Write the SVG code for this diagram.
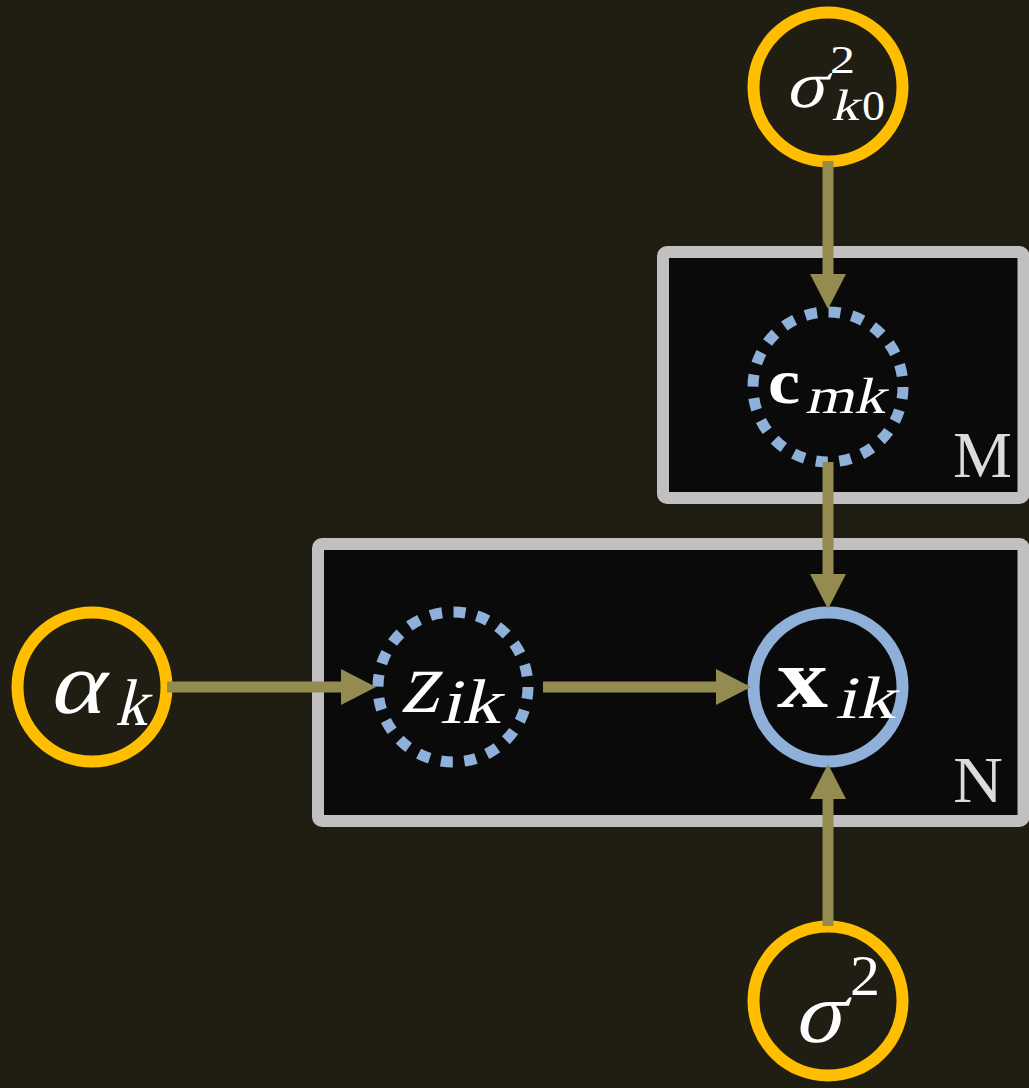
<svg xmlns="http://www.w3.org/2000/svg" width="1029" height="1088" viewBox="0 0 1029 1088">
  <style>
    .plate { fill: #0a0a0a; stroke: #c0c0c0; stroke-width: 12; }
    .plate-label { font-family: "Liberation Serif", serif; font-size: 66px; fill: #dcdcdc; }
    .hyper { fill: none; stroke: #ffbe00; stroke-width: 12; }
    .latent { fill: #0a0a0a; stroke: #8fb1d9; stroke-width: 11; stroke-dasharray: 12 11.56; }
    .observed { fill: #0a0a0a; stroke: #8fb1d9; stroke-width: 12; }
    .m { font-family: "Liberation Serif", "DejaVu Serif", serif; fill: #ffffff; }
    .bf { font-weight: bold; }
    .edge { stroke: #938b50; stroke-width: 11; fill: none; marker-end: url(#head); }
  </style>
  <defs>
    <marker id="head" viewBox="0 0 35 36" refX="1" refY="18" markerWidth="35" markerHeight="36" markerUnits="userSpaceOnUse" orient="auto">
      <path d="M0,0 L35,18 L0,36 Z" fill="#938b50"/>
    </marker>
  </defs>

  <rect width="1029" height="1088" fill="#201d12"/>

  <!-- plates -->
  <g id="plate-M">
    <rect class="plate" x="663" y="252" width="360.5" height="246" rx="4"/>
    <text class="plate-label" x="953" y="477" textLength="59" lengthAdjust="spacingAndGlyphs">M</text>
  </g>
  <g id="plate-N">
    <rect class="plate" x="318" y="544" width="705.5" height="277" rx="4"/>
    <text class="plate-label" x="953" y="802" textLength="50" lengthAdjust="spacingAndGlyphs">N</text>
  </g>

  <!-- nodes (math italics: upright serif glyphs slanted about their baseline) -->
  <g id="node-sigma-k0">
    <circle class="hyper" cx="828" cy="87" r="74.5"/>
    <text class="m" transform="translate(785 107) skewX(-14)" font-size="66" textLength="40" lengthAdjust="spacingAndGlyphs">σ</text>
    <text class="m" x="830" y="73" font-size="39" textLength="25" lengthAdjust="spacingAndGlyphs">2</text>
    <text class="m" transform="translate(831 120) skewX(-14)" font-size="44" textLength="28" lengthAdjust="spacingAndGlyphs">k</text>
    <text class="m" x="862" y="120" font-size="42" textLength="23" lengthAdjust="spacingAndGlyphs">0</text>
  </g>

  <g id="node-c-mk">
    <circle class="latent" cx="828" cy="387" r="75"/>
    <text class="m bf" x="768" y="403" font-size="64" textLength="32" lengthAdjust="spacingAndGlyphs">c</text>
    <text class="m" transform="translate(805 413) skewX(-14)" font-size="51" textLength="80" lengthAdjust="spacingAndGlyphs">mk</text>
  </g>

  <g id="node-alpha-k">
    <circle class="hyper" cx="92" cy="687" r="74.5"/>
    <text class="m" transform="translate(48 713) skewX(-14)" font-size="88" textLength="54" lengthAdjust="spacingAndGlyphs">α</text>
    <text class="m" transform="translate(115 725) skewX(-14)" font-size="66" textLength="32" lengthAdjust="spacingAndGlyphs">k</text>
  </g>

  <g id="node-z-ik">
    <circle class="latent" cx="453" cy="687" r="75"/>
    <text class="m" transform="translate(400 712) skewX(-14)" font-size="88" textLength="38" lengthAdjust="spacingAndGlyphs">z</text>
    <text class="m" transform="translate(440 723) skewX(-14)" font-size="63" textLength="60" lengthAdjust="spacingAndGlyphs">ik</text>
  </g>

  <g id="node-x-ik">
    <circle class="observed" cx="828" cy="687" r="74.5"/>
    <text class="m bf" x="777" y="707" font-size="84" textLength="51" lengthAdjust="spacingAndGlyphs">x</text>
    <text class="m" transform="translate(835 718) skewX(-14)" font-size="60" textLength="60" lengthAdjust="spacingAndGlyphs">ik</text>
  </g>

  <g id="node-sigma">
    <circle class="hyper" cx="828" cy="1001" r="74.5"/>
    <text class="m" transform="translate(793 1042) skewX(-14)" font-size="87" textLength="49" lengthAdjust="spacingAndGlyphs">σ</text>
    <text class="m" x="850" y="995" font-size="57" textLength="30" lengthAdjust="spacingAndGlyphs">2</text>
  </g>

  <!-- connectors -->
  <g id="edges">
    <line class="edge" x1="828" y1="161" x2="828" y2="275"/>
    <line class="edge" x1="828" y1="462" x2="828" y2="575"/>
    <line class="edge" x1="167" y1="687" x2="342" y2="687"/>
    <line class="edge" x1="543" y1="687" x2="717" y2="687"/>
    <line class="edge" x1="828" y1="926" x2="828" y2="798"/>
  </g>
</svg>
